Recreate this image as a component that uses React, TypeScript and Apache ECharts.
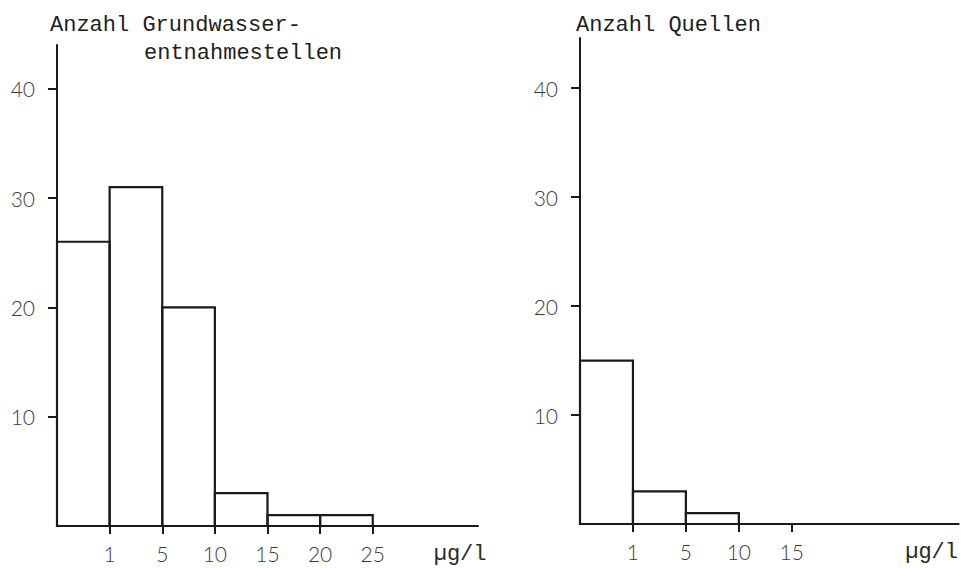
import React, { useEffect, useRef } from "react";
import * as echarts from "echarts";

// Left histogram: Grundwasserentnahmestellen (bins <1, 1-5, 5-10, 10-15, 15-20, 20-25 µg/l)
const leftCounts = [26, 31, 20, 3, 1, 1];
const leftTickLabels = ["1", "5", "10", "15", "20", "25"];
// Right histogram: Quellen (bins <1, 1-5, 5-10 µg/l)
const rightCounts = [15, 3, 1];
const rightTickLabels = ["1", "5", "10", "15"];
const yTickValues = [10, 20, 30, 40];
const unitLabel = "µg/l";
const leftTitle1 = "Anzahl Grundwasser-";
const leftTitle2 = "entnahmestellen";
const rightTitle = "Anzahl Quellen";

const INK = "#1a1a1a";
const LABEL = "#3a3a3a";
const MONO = "'Liberation Mono', 'DejaVu Sans Mono', monospace";
const SANS = "Lato, Roboto, 'Noto Sans', sans-serif";

function makeXAxis(gridIndex: number, max: number, ticks: string[], unitPos: number) {
  const tickVals = ticks.map((_, i) => i + 1);
  return {
    type: "value",
    gridIndex,
    min: 0,
    max,
    splitLine: { show: false },
    axisLine: { show: true, onZero: true, lineStyle: { color: INK, width: 2 } },
    axisTick: { show: true, customValues: tickVals, length: 8, lineStyle: { color: INK, width: 2 } },
    axisLabel: {
      show: true,
      customValues: [...tickVals, unitPos],
      margin: 17,
      fontSize: 21,
      fontFamily: SANS,
      fontWeight: 300,
      color: LABEL,
      formatter: (v: number) => {
        if (Math.abs(v - unitPos) < 1e-6) return "{u|" + unitLabel + "}";
        const idx = Math.round(v) - 1;
        return ticks[idx] ?? "";
      },
      rich: {
        u: { fontFamily: MONO, fontSize: 22, color: "#2a2a2a" },
      },
    },
  };
}

function makeYAxis(gridIndex: number, max: number) {
  return {
    type: "value",
    gridIndex,
    min: 0,
    max,
    splitLine: { show: false },
    axisLine: { show: true, lineStyle: { color: INK, width: 2 } },
    axisTick: { show: true, customValues: yTickValues, length: 9, lineStyle: { color: INK, width: 2 } },
    axisLabel: {
      show: true,
      customValues: yTickValues,
      margin: 22,
      fontSize: 21,
      fontFamily: SANS,
      fontWeight: 300,
      color: LABEL,
    },
  };
}

function histSeries(idx: number, counts: number[]) {
  return {
    type: "custom",
    xAxisIndex: idx,
    yAxisIndex: idx,
    clip: false,
    data: counts.map((c, i) => [i, c]),
    renderItem: (_params: any, api: any) => {
      const i = api.value(0);
      const v = api.value(1);
      const p0 = api.coord([i, 0]);
      const p1 = api.coord([i + 1, v]);
      return {
        type: "rect",
        shape: { x: p0[0], y: p1[1], width: p1[0] - p0[0], height: p0[1] - p1[1] },
        style: { fill: "none", stroke: INK, lineWidth: 2.2 },
      };
    },
  };
}

export default function App() {
  const ref = useRef<HTMLDivElement>(null);
  useEffect(() => {
    document.body.style.margin = "0";
    if (!ref.current) return;
    const chart = echarts.init(ref.current, null, { renderer: "svg" });
    const titleStyle = { fontFamily: MONO, fontSize: 22, fontWeight: "normal", color: "#1e1e1e" };
    chart.setOption({
      animation: false,
      backgroundColor: "#ffffff",
      title: [
        { text: leftTitle1, left: 50, top: 14, padding: 0, textStyle: titleStyle },
        { text: leftTitle2, left: 144, top: 42, padding: 0, textStyle: titleStyle },
        { text: rightTitle, left: 576, top: 14, padding: 0, textStyle: titleStyle },
      ],
      grid: [
        { left: 57, right: 483, top: 45, bottom: 42 },
        { left: 580, right: 0, top: 38, bottom: 44 },
      ],
      xAxis: [makeXAxis(0, 8, leftTickLabels, 7.66), makeXAxis(1, 7.15, rightTickLabels, 6.64)],
      yAxis: [makeYAxis(0, 44), makeYAxis(1, 44.6)],
      series: [histSeries(0, leftCounts), histSeries(1, rightCounts)],
    });
    return () => chart.dispose();
  }, []);
  return <div ref={ref} style={{ width: 961, height: 568 }} />;
}
